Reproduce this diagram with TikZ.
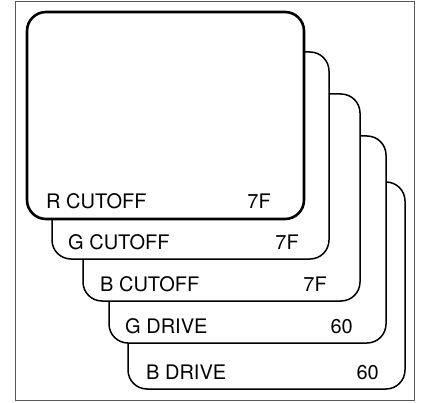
\documentclass[tikz,border=0pt]{standalone}
\usepackage{fontspec}
\setmainfont{TeX Gyre Heros}
\begin{document}
\begin{tikzpicture}[x=1pt,y=-1pt,
  card/.style={draw=black, fill=white, line width=1.5pt, rounded corners=19pt,
    rectangle, inner sep=0pt, outer sep=0pt, anchor=north west,
    minimum width=277pt, minimum height=207pt},
  front/.style={line width=2.6pt},
  lbl/.style={anchor=base west, inner sep=0pt, font=\fontsize{20}{22}\selectfont},
  val/.style={anchor=base east, inner sep=0pt, font=\fontsize{20}{22}\selectfont}]
\useasboundingbox (0,0) rectangle (425,403);
\draw[line width=1pt, draw=black!65] (15,2) rectangle (414,400);
\node[card] (r5) at (128,182) {};
\node[card] (r4) at (109,136) {};
\node[card] (r3) at (83,94) {};
\node[card] (r2) at (52,52) {};
\node[card, front] (r1) at (27,12) {};
\node[lbl] (l1) at ([shift={(19,-10)}]r1.south west) {R CUTOFF};
\node[lbl] (l2) at ([shift={(16,-10)}]r2.south west) {G CUTOFF};
\node[lbl] (l3) at ([shift={(17,-10)}]r3.south west) {B CUTOFF};
\node[lbl] (l4) at ([shift={(16,-10)}]r4.south west) {G DRIVE};
\node[lbl] (l5) at ([shift={(18,-10)}]r5.south west) {B DRIVE};
\node[val] (v1) at ([shift={(-33,-10)}]r1.south east) {7F};
\node[val] (v2) at ([shift={(-30,-10)}]r2.south east) {7F};
\node[val] (v3) at ([shift={(-33,-10)}]r3.south east) {7F};
\node[val] (v4) at ([shift={(-33,-10)}]r4.south east) {60};
\node[val] (v5) at ([shift={(-26,-10)}]r5.south east) {60};
\end{tikzpicture}
\end{document}
